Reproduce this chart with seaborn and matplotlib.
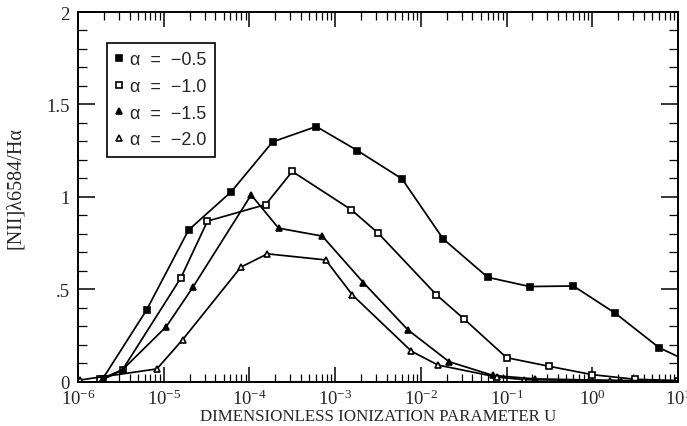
import numpy as np
import pandas as pd
import matplotlib
matplotlib.use("Agg")
import matplotlib.pyplot as plt
import matplotlib.ticker as mticker
import seaborn as sns

# ---- data (log10 U, [NII]/Ha) ----
logu_a05 = [-5.71, -5.20, -4.71, -4.21, -3.73, -3.22, -2.74, -2.22, -1.74, -1.22, -0.73, -0.22, 0.27, 0.78, 1.27]
val_a05 = [0.016, 0.387, 0.82, 1.028, 1.297, 1.38, 1.25, 1.097, 0.772, 0.564, 0.514, 0.517, 0.369, 0.183, 0.076]

logu_a10 = [-5.74, -5.48, -4.80, -4.49, -3.81, -3.50, -2.81, -2.50, -1.82, -1.50, -1.00, -0.50, 0.00, 0.50, 1.00]
val_a10 = [0.012, 0.064, 0.561, 0.868, 0.958, 1.137, 0.929, 0.804, 0.470, 0.340, 0.129, 0.082, 0.037, 0.012, 0.005]

logu_a15 = [-5.72, -5.48, -4.97, -4.66, -3.98, -3.66, -3.15, -2.67, -2.15, -1.67, -1.16, -0.67, 0.33, 1.10]
val_a15 = [0.008, 0.064, 0.297, 0.510, 1.010, 0.830, 0.787, 0.535, 0.279, 0.107, 0.033, 0.014, 0.005, 0.002]

logu_a20 = [-5.98, -5.08, -4.78, -4.10, -3.79, -3.11, -2.80, -2.11, -1.80, -1.11, -0.80, 0.21, 1.10]
val_a20 = [0.008, 0.068, 0.226, 0.619, 0.691, 0.658, 0.469, 0.164, 0.089, 0.024, 0.010, 0.005, 0.002]

labels = ["α  =  −0.5", "α  =  −1.0", "α  =  −1.5", "α  =  −2.0"]
ytick_vals = [0, 0.5, 1, 1.5, 2]
ytick_labels = ["0", ".5", "1", "1.5", "2"]

sns.set_style("ticks")
plt.rcParams["font.family"] = ["Liberation Serif", "DejaVu Serif"]
plt.rcParams["mathtext.fontset"] = "custom"
plt.rcParams["mathtext.rm"] = "Liberation Serif"
plt.rcParams["mathtext.it"] = "Liberation Serif:italic"

fig = plt.figure(figsize=(6.87, 4.27), dpi=100)
ax = fig.add_axes([78 / 687, 1 - 382.5 / 427, 600 / 687, 369.5 / 427])

series = [
    (logu_a05, val_a05, "s", "black"),
    (logu_a10, val_a10, "s", "white"),
    (logu_a15, val_a15, "^", "black"),
    (logu_a20, val_a20, "^", "white"),
]

for (lu, v, mk, fc), lab in zip(series, labels):
    df = pd.DataFrame({"U": 10.0 ** np.array(lu), "ratio": v})
    sns.lineplot(data=df, x="U", y="ratio", ax=ax, color="black", lw=1.25,
                 marker=mk, markersize=4.3, markerfacecolor=fc,
                 markeredgecolor="black", markeredgewidth=1.2,
                 estimator=None, sort=False, label=lab, clip_on=True)

ax.set_xscale("log")
ax.set_xlim(1e-6, 10)
ax.set_ylim(0, 2)

ax.xaxis.set_major_locator(mticker.LogLocator(base=10, numticks=20))
ax.xaxis.set_minor_locator(mticker.LogLocator(base=10, subs=np.arange(2, 10), numticks=100))
ax.xaxis.set_minor_formatter(mticker.NullFormatter())
ax.yaxis.set_major_locator(mticker.FixedLocator(ytick_vals))
ax.yaxis.set_major_formatter(mticker.FixedFormatter(ytick_labels))
ax.yaxis.set_minor_locator(mticker.MultipleLocator(0.1))

ax.tick_params(axis="x", which="major", direction="in", length=10.5, width=1.1,
               top=True, bottom=True, labelsize=13.5, pad=5, color="black")
ax.tick_params(axis="x", which="minor", direction="in", length=5.5, width=0.9,
               top=True, bottom=True, color="black")
ax.tick_params(axis="y", which="major", direction="in", length=12, width=1.1,
               left=True, right=True, labelsize=13.5, pad=6, color="black")
ax.tick_params(axis="y", which="minor", direction="in", length=6.5, width=0.9,
               left=True, right=True, color="black")

for s in ax.spines.values():
    s.set_linewidth(1.4)
    s.set_color("black")

ax.set_xlabel("DIMENSIONLESS IONIZATION PARAMETER U", fontsize=12.2, labelpad=0)
ax.set_ylabel("[NII]λ6584/Hα", fontsize=14.5)
ax.yaxis.set_label_coords(-0.088, 0.525)

leg = ax.legend(loc="upper left", bbox_to_anchor=(29 / 600, 1 - 31 / 369.5),
                frameon=True, fancybox=False, edgecolor="black", framealpha=1,
                handlelength=0.4, handletextpad=0.45, labelspacing=0.54,
                borderpad=0.45, borderaxespad=0,
                prop={"family": ["Liberation Sans", "DejaVu Sans"], "size": 13})
leg.get_frame().set_linewidth(1.2)
for h in leg.legend_handles:
    h.set_linestyle("none")
    h.set_markersize(4)

fig.savefig("out.png", dpi=100)
